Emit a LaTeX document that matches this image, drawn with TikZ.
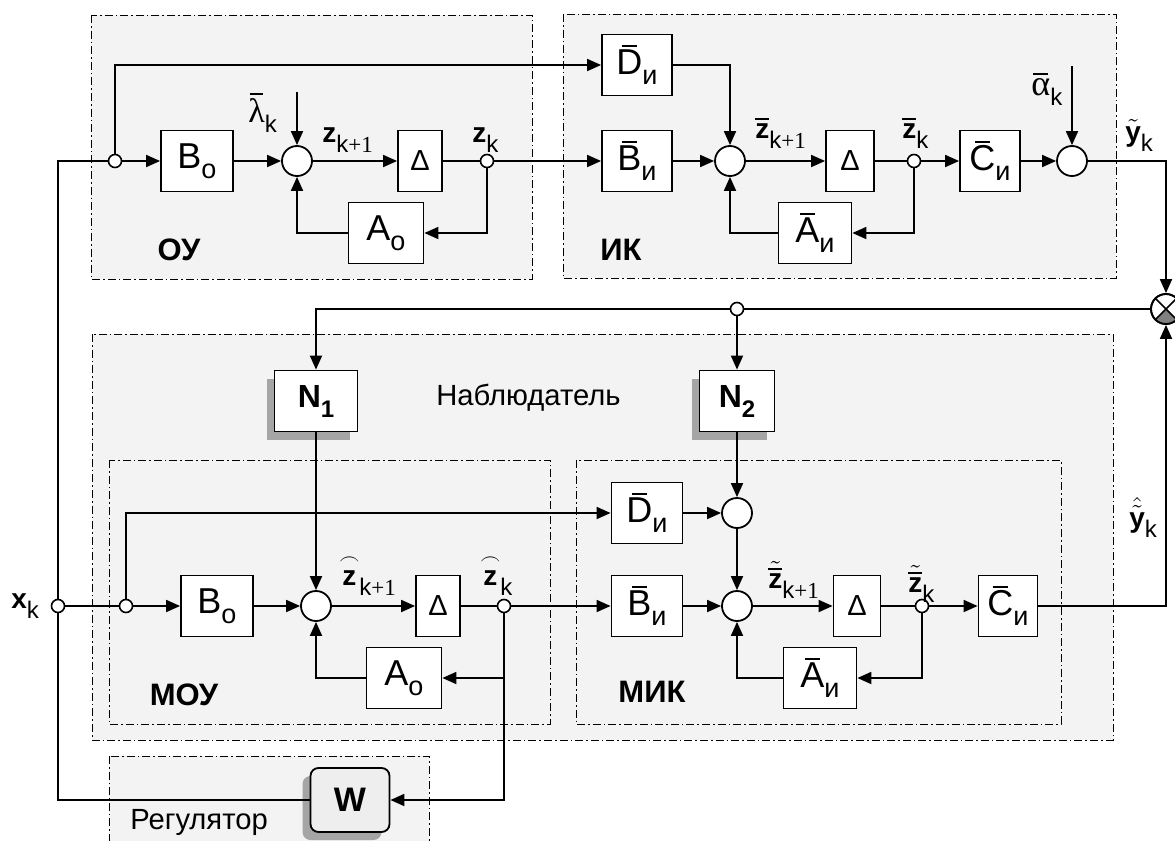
\documentclass[tikz,border=0pt]{standalone}
\usepackage{amsmath}
\usepackage{fontspec}
\setmainfont{Liberation Sans}
\newfontfamily\grkfont{Liberation Serif}
\usetikzlibrary{arrows.meta, shadows}
\definecolor{regiongray}{RGB}{243,243,243}
\definecolor{wgray}{RGB}{238,238,238}
\definecolor{shadegray}{RGB}{165,165,165}
\definecolor{sectorgray}{RGB}{128,128,128}

\newcommand{\sbs}[2][12]{\raisebox{-5pt}{\fontsize{#1}{#1}\selectfont #2}}
\newcommand{\ovl}[2][0.6]{\setbox0\hbox{#2}\vbox{\offinterlineskip\hbox to\wd0{\hfil\rule{#1\wd0}{0.8pt}\hfil}\kern1.6pt\box0}}

\begin{document}
\begin{tikzpicture}[x=0.5pt, y=-0.5pt, >={Triangle[length=7pt,width=6pt]},
  blk/.style={draw, fill=white, line width=0.9pt, inner sep=0pt, minimum height=30.5pt,
    font=\fontsize{18}{18}\selectfont},
  dlt/.style={blk, minimum width=22pt, font=\fontsize{14.5}{14.5}\selectfont},
  sum/.style={draw, circle, fill=white, line width=0.9pt, minimum size=15pt, inner sep=0pt},
  jnc/.style={draw, circle, fill=white, line width=0.8pt, minimum size=6.5pt, inner sep=0pt},
  shd/.style={drop shadow={shadow xshift=-4pt, shadow yshift=-4pt, fill=shadegray, opacity=1}},
  nblk/.style={blk, shd, font=\fontsize{16}{16}\selectfont\bfseries},
  region/.style={fill=regiongray, line width=0.5pt, dash pattern=on 4pt off 1.5pt on 0.8pt off 1.5pt},
  wire/.style={line width=0.9pt},
  sig/.style={anchor=base west, inner sep=0pt, font=\fontsize{14}{14}\selectfont},
  title/.style={font=\fontsize{15.5}{15.5}\selectfont\bfseries},
  capt/.style={font=\fontsize{14.6}{14.6}\selectfont}]

  \useasboundingbox (0,0) rectangle (1175,841);

  % Regions
  \draw[region] (91,15) rectangle (532,279);
  \draw[region] (563,14) rectangle (1116,278);
  \draw[region] (92,334) rectangle (1113,740);
  \draw[region] (109,460) rectangle (550,724);
  \draw[region] (576,460) rectangle (1061,724);
  \draw[region] (109,756) rectangle (429,870);

  \node[title] (tOU) at (179,250) {ОУ};
  \node[title] (tIK) at (621,250) {ИК};
  \node[title] (tMOU) at (184,695) {МОУ};
  \node[title] (tMIK) at (652,692) {МИК};
  \node[capt, anchor=west, inner sep=0pt] (tObs) at (436,398) {Наблюдатель};
  \node[capt, anchor=west, inner sep=0pt] (tReg) at (130,822) {Регулятор};

  % Object
  \node[jnc] (j1) at (115,161) {};
  \node[blk, minimum width=36pt] (Bo1) at (197,161) {B\sbs[13.5]{o}};
  \node[sum] (S1) at (297,161) {};
  \node[dlt] (Dl1) at (420,161) {Δ};
  \node[jnc] (jz1) at (487,161) {};
  \node[blk, minimum width=37.5pt] (Ao1) at (386,233) {A\sbs[13.5]{o}};
  \coordinate (lam) at (297,92);

  % Measuring channel
  \node[blk, minimum width=35pt] (D1) at (637,65) {\ovl{D}\sbs[13.5]{и}};
  \node[blk, minimum width=35pt] (B1) at (637,161) {\ovl{B}\sbs[13.5]{и}};
  \node[sum] (S2) at (730,161) {};
  \node[dlt, minimum width=24pt] (Dl2) at (850,161) {Δ};
  \node[jnc] (jz2) at (914,161) {};
  \node[blk, minimum width=30pt] (C1) at (990,161) {\ovl{C}\sbs[13.5]{и}};
  \node[sum] (S3) at (1072,161) {};
  \node[blk, minimum width=36.5pt] (Ab1) at (815,233) {\ovl{A}\sbs[13.5]{и}};
  \coordinate (alf) at (1072,66);

  % Comparator
  \node[sum] (cmp) at (1166,309) {};
  \fill[sectorgray] (cmp.center) -- (cmp.-45) arc[start angle=-45, end angle=-135, radius=7.5pt] -- cycle;
  \draw[line width=0.8pt] (cmp.45) -- (cmp.-135) (cmp.135) -- (cmp.-45);
  \draw[line width=0.9pt] (cmp.center) circle[radius=7.5pt];
  \node[jnc] (jn) at (737,309) {};

  % Observer gains
  \node[nblk, minimum width=41.5pt] (N1) at (316,401) {N\sbs{1}};
  \node[nblk, minimum width=37.5pt] (N2) at (737,401) {N\sbs{2}};

  % Object model
  \node[jnc] (xk) at (58,606) {};
  \node[jnc] (j2) at (126,606) {};
  \node[blk, minimum width=36pt] (Bo2) at (217,606) {B\sbs[13.5]{o}};
  \node[sum] (S4) at (316,606) {};
  \node[dlt] (Dl3) at (438,606) {Δ};
  \node[jnc] (jz3) at (504,606) {};
  \node[blk, minimum width=37.5pt] (Ao2) at (404,678) {A\sbs[13.5]{o}};

  % Channel model
  \node[blk, minimum width=35.5pt] (Db2) at (647,513) {\ovl{D}\sbs[13.5]{и}};
  \node[sum] (S5) at (737,513) {};
  \node[blk, minimum width=35.5pt] (Bb2) at (647,606) {\ovl{B}\sbs[13.5]{и}};
  \node[sum] (S6) at (737,606) {};
  \node[dlt, minimum width=23.5pt] (Dl4) at (857,606) {Δ};
  \node[jnc] (jz4) at (922,606) {};
  \node[blk, minimum width=29.5pt] (C2) at (1008,606) {\ovl{C}\sbs[13.5]{и}};
  \node[blk, minimum width=36.5pt] (Ab2) at (820,678) {\ovl{A}\sbs[13.5]{и}};

  % Controller
  \node[blk, shd, rounded corners=4pt, fill=wgray, minimum width=39.5pt, minimum height=32pt,
    font=\fontsize{17}{17}\selectfont\bfseries] (W) at (350,800) {W};

  % Signal labels
  \node[sig] (Llam) at (248,122) {\ovl[0.8]{\fontsize{17}{17}\grkfont λ}\sbs{k}};
  \node[sig] (Lz1) at (322,142) {\textbf{z}\sbs{k{\grkfont\fontsize{11.5}{11.5}\selectfont +1}}};
  \node[sig] (Lz2) at (472,142) {\textbf{z}\sbs{k}};
  \node[sig] (Lz3) at (755,138) {\ovl[1]{\bfseries z}\sbs{k{\grkfont\fontsize{11.5}{11.5}\selectfont +1}}};
  \node[sig] (Lz4) at (902,138) {\ovl[1]{\bfseries z}\sbs{k}};
  \node[sig] (Lalf) at (1031,95) {\ovl[0.8]{\fontsize{18}{18}\grkfont α}\sbs{k}};
  \node[sig] (Ly1) at (1125,141) {$\tilde{\mbox{\bfseries y}}$\sbs{k}};
  \node[sig] (Lz5) at (339,585) {$\overset{\scriptstyle\frown}{\mbox{\bfseries z}}$\sbs{k{\grkfont\fontsize{11.5}{11.5}\selectfont +1}}};
  \node[sig] (Lz6) at (480,585) {$\overset{\scriptstyle\frown}{\mbox{\bfseries z}}$\sbs{k}};
  \node[sig] (Lz7) at (768,588) {$\tilde{\mbox{\ovl[1]{\bfseries z}}}$\sbs{k{\grkfont\fontsize{11.5}{11.5}\selectfont +1}}};
  \node[sig] (Lz8) at (908,592) {$\tilde{\mbox{\ovl[1]{\bfseries z}}}$\sbs{k}};
  \node[sig] (Ly2) at (1129,527) {$\hat{\tilde{\mbox{\bfseries y}}}$\sbs{k}};
  \node[sig] (Lx) at (11,608) {\textbf{x}\sbs{k}};

  % Object connections
  \draw[wire] (xk) |- (j1);
  \draw[wire] (W.west) -| (xk);
  \draw[wire] (xk) -- (j2);
  \draw[wire, ->] (j1) -- (Bo1);
  \draw[wire, ->] (j1) |- (D1);
  \draw[wire, ->] (Bo1) -- (S1);
  \draw[wire, ->] (lam) -- (S1);
  \draw[wire, ->] (S1) -- (Dl1);
  \draw[wire] (Dl1) -- (jz1);
  \draw[wire, ->] (jz1) -- (B1);
  \draw[wire, ->] (jz1) |- (Ao1);
  \draw[wire, ->] (Ao1) -| (S1);

  % Channel connections
  \draw[wire, ->] (D1) -| (S2);
  \draw[wire, ->] (B1) -- (S2);
  \draw[wire, ->] (S2) -- (Dl2);
  \draw[wire] (Dl2) -- (jz2);
  \draw[wire, ->] (jz2) -- (C1);
  \draw[wire, ->] (jz2) |- (Ab1);
  \draw[wire, ->] (Ab1) -| (S2);
  \draw[wire, ->] (C1) -- (S3);
  \draw[wire, ->] (alf) -- (S3);
  \draw[wire, ->] (S3) -| (cmp);

  % Observer connections
  \draw[wire] (cmp) -- (jn);
  \draw[wire, ->] (jn) -| (N1);
  \draw[wire, ->] (jn) -- (N2);
  \draw[wire, ->] (N1) -- (S4);
  \draw[wire, ->] (N2) -- (S5);
  \draw[wire, ->] (j2) |- (Db2);
  \draw[wire, ->] (Db2) -- (S5);
  \draw[wire, ->] (S5) -- (S6);
  \draw[wire, ->] (j2) -- (Bo2);
  \draw[wire, ->] (Bo2) -- (S4);
  \draw[wire, ->] (S4) -- (Dl3);
  \draw[wire] (Dl3) -- (jz3);
  \draw[wire, ->] (jz3) -- (Bb2);
  \draw[wire, ->] (jz3) |- (Ao2);
  \draw[wire, ->] (Ao2) -| (S4);
  \draw[wire, ->] (jz3) |- (W);
  \draw[wire, ->] (Bb2) -- (S6);
  \draw[wire, ->] (S6) -- (Dl4);
  \draw[wire] (Dl4) -- (jz4);
  \draw[wire, ->] (jz4) -- (C2);
  \draw[wire, ->] (jz4) |- (Ab2);
  \draw[wire, ->] (Ab2) -| (S6);
  \draw[wire, ->] (C2) -| (cmp);

\end{tikzpicture}
\end{document}
